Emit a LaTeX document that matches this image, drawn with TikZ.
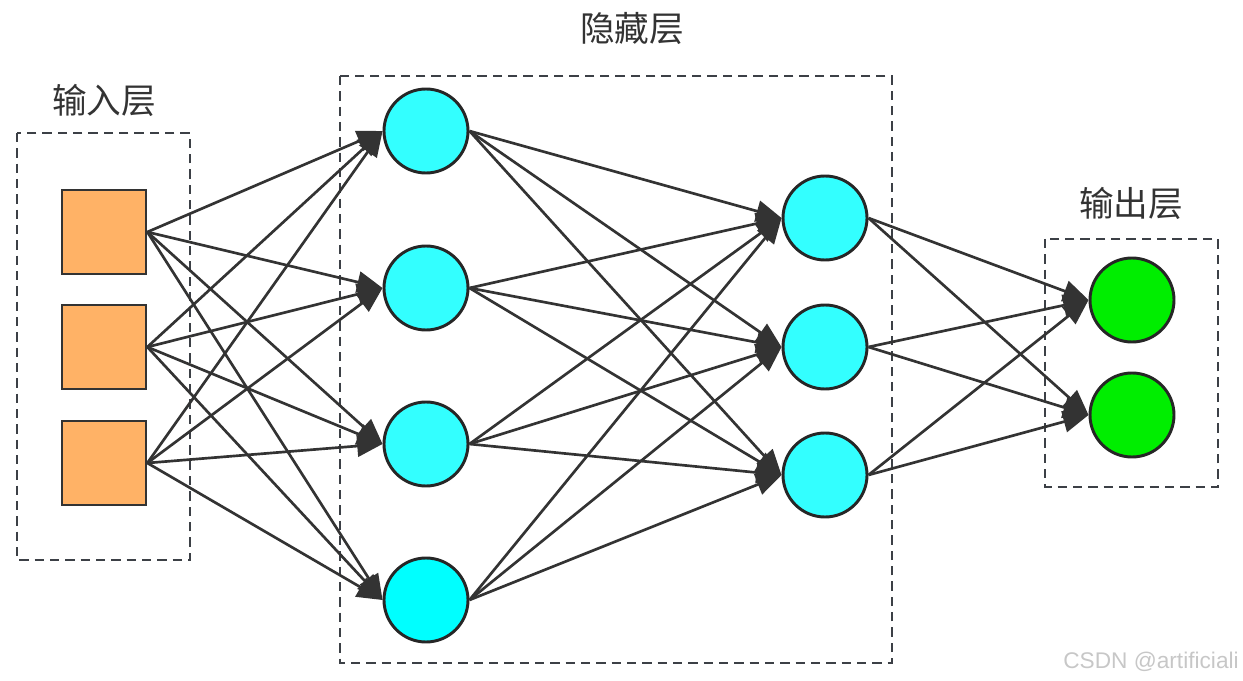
\documentclass[tikz,border=0pt]{standalone}
\usepackage{fontspec}
\newfontfamily\cjk{Noto Sans CJK SC}
\setsansfont{Liberation Sans}
\usetikzlibrary{arrows.meta}

\definecolor{inorange}{RGB}{255,178,102}
\definecolor{hidcyan}{RGB}{51,255,255}
\definecolor{deepcyan}{RGB}{0,255,255}
\definecolor{outgreen}{RGB}{0,238,0}
\definecolor{edgegray}{RGB}{51,51,51}
\definecolor{framegray}{RGB}{60,64,70}

\tikzset{
  inunit/.style={draw=edgegray, line width=2pt, fill=inorange, minimum size=63pt, inner sep=0pt},
  hidunit/.style={circle, draw=black!85, line width=2.2pt, fill=hidcyan, minimum size=63pt, inner sep=0pt},
  outunit/.style={circle, draw=black!85, line width=2.2pt, fill=outgreen, minimum size=63pt, inner sep=0pt},
  layerframe/.style={draw=framegray, line width=1.8pt, dash pattern={on 7pt off 4.5pt}},
  layertitle/.style={text=edgegray, font=\cjk\fontsize{26}{30}\selectfont, inner sep=0.75pt},
  link/.style={draw=edgegray, line width=2pt, -{Triangle[length=19pt,width=16pt]}}
}

\begin{document}
\begin{tikzpicture}[x=0.75pt,y=0.75pt,yscale=-1,xscale=1]
\useasboundingbox (0,0) rectangle (1243,681);

%Dashed frames
\draw [layerframe] (17,133) rectangle (190,560);
\draw [layerframe] (340,76) rectangle (892,663);
\draw [layerframe] (1045,239) rectangle (1218,487);

% Text Node
\node [layertitle] (inTitle) at (104,100) {输入层};
% Text Node
\node [layertitle] (hidTitle) at (632,28) {隐藏层};
% Text Node
\node [layertitle] (outTitle) at (1131,203) {输出层};

%Input units
\node [inunit] (in1) at (104,232) {};
\node [inunit] (in2) at (104,347) {};
\node [inunit] (in3) at (104,463) {};

%Hidden units
\node [hidunit] (ha1) at (426,131) {};
\node [hidunit] (ha2) at (426,288) {};
\node [hidunit] (ha3) at (426,444) {};
\node [hidunit, fill=deepcyan] (ha4) at (426,600) {};
\node [hidunit] (hb1) at (825,218) {};
\node [hidunit] (hb2) at (825,347) {};
\node [hidunit] (hb3) at (825,475) {};

%Output units
\node [outunit] (out1) at (1132,300) {};
\node [outunit] (out2) at (1132,415) {};

%Connections
\foreach \i in {1,2,3}
  \foreach \j in {1,2,3,4}
    \draw [link] (in\i.east) -- (ha\j.west);
\foreach \i in {1,2,3,4}
  \foreach \j in {1,2,3}
    \draw [link] (ha\i.east) -- (hb\j.west);
\foreach \i in {1,2,3}
  \foreach \j in {1,2}
    \draw [link] (hb\i.east) -- (out\j.west);

% Text Node
\node [anchor=east, inner sep=0.75pt, text=black!22, font=\sffamily\fontsize{17}{20}\selectfont] (mark) at (1240,662) {CSDN @artificiali};

\end{tikzpicture}
\end{document}
